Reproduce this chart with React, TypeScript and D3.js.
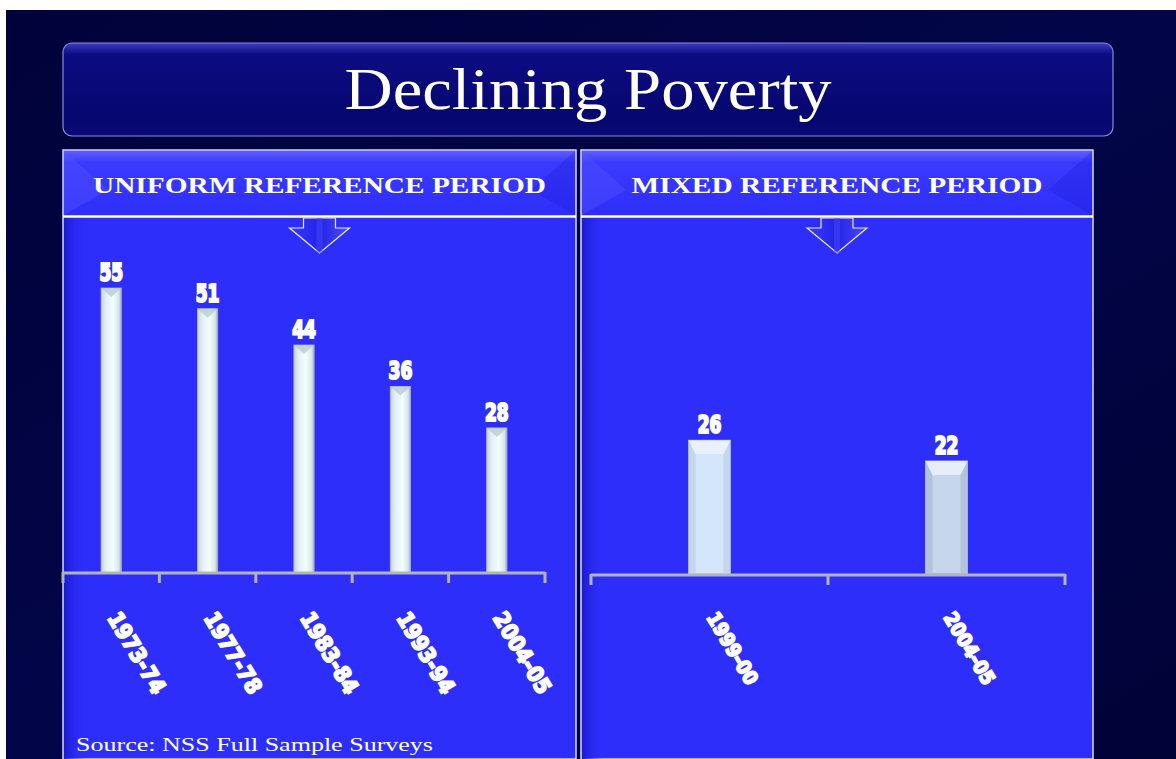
import React from "react";
import * as d3 from "d3";

// poverty headcount ratio (%)
const urpPeriods = ["1973-74", "1977-78", "1983-84", "1993-94", "2004-05"];
const urpValues = [55, 51, 44, 36, 28];
const mrpPeriods = ["1999-00", "2004-05"];
const mrpValues = [26, 22];

const titleText = "Declining Poverty";
const urpTitle = "UNIFORM REFERENCE PERIOD";
const mrpTitle = "MIXED REFERENCE PERIOD";
const sourceText = "Source: NSS Full Sample Surveys";

const W = 1176;
const H = 759;
const panelColor = "#2e2efb";
const numFont = "'DejaVu Sans Condensed', 'DejaVu Sans', sans-serif";
const serif = "'Liberation Serif', 'DejaVu Serif', serif";

function Arrow({ cx, top }: { cx: number; top: number }) {
  const stem = 16;
  const head = 30;
  const d = `M${cx - stem},${top} L${cx + stem},${top} L${cx + stem},${top + 10} L${cx + head},${top + 10} L${cx},${top + 35} L${cx - head},${top + 10} L${cx - stem},${top + 10} Z`;
  return (
    <g>
      <path d={d} fill="url(#arrowGrad)" stroke="#e8e8ff" strokeWidth={1.2} />
      <path d={`M${cx},${top} L${cx},${top + 35}`} stroke="#4848ff" strokeWidth={6} opacity={0.5} />
    </g>
  );
}

function Panel({
  x0, x1, title, titleLen, periods, values, axisY, axisX0, axisX1, padInner, wide, labelSize, showSource,
}: {
  x0: number; x1: number; title: string; titleLen: number; periods: string[]; values: number[];
  axisY: number; axisX0: number; axisX1: number; padInner: number; wide: boolean; labelSize: number; showSource: boolean;
}) {
  const x = d3.scaleBand<string>()
    .domain(periods)
    .range([axisX0, axisX1])
    .paddingInner(padInner)
    .paddingOuter(padInner / 2);
  const y = d3.scaleLinear().domain([0, 55]).range([axisY, axisY - 285]);
  const step = x.step();
  const ticks = d3.range(periods.length + 1).map(i => axisX0 + i * step);
  const cx = (x0 + x1) / 2;
  const bw = x.bandwidth();

  return (
    <g>
      <rect x={x0} y={150} width={x1 - x0} height={H - 150} fill={panelColor} stroke="#d8d8ff" strokeWidth={1.5} />
      <rect x={x0 + 1} y={151} width={22} height={H - 151} fill="url(#leftShade)" />
      {/* header bevel */}
      <rect x={x0 + 1} y={151} width={x1 - x0 - 2} height={64} fill="url(#headGrad)" />
      <path d={`M${x0 + 1},151 L${x0 + 45},190 L${x0 + 1},215 Z`} fill="#5a5aff" opacity={0.35} />
      <path d={`M${x1 - 1},151 L${x1 - 45},190 L${x1 - 1},215 Z`} fill="#1c1cd8" opacity={0.3} />
      <line x1={x0} x2={x1} y1={216.5} y2={216.5} stroke="#ffffff" strokeWidth={2.5} />
      <text x={cx} y={193} textAnchor="middle" fill="#ffffff" fontFamily={serif} fontWeight="bold"
        fontSize={23} textLength={titleLen} lengthAdjust="spacingAndGlyphs">{title}</text>
      <Arrow cx={cx} top={218} />

      {/* bars */}
      {periods.map((p, i) => {
        const bx = x(p) as number;
        const top = y(values[i]);
        const h = axisY - top;
        if (!wide) {
          return (
            <g key={p}>
              <rect x={bx} y={top} width={bw} height={h} fill="url(#barGrad)" stroke="#a9b6bd" strokeWidth={0.8} />
              <path d={`M${bx},${top} L${bx + bw},${top} L${bx + bw / 2},${top + 9} Z`} fill="#b9cad2" opacity={0.8} />
            </g>
          );
        }
        const inset = 7;
        return (
          <g key={p}>
            <rect x={bx} y={top} width={bw} height={h} fill={i === 0 ? "#c2d6f0" : "#b2c3dc"} stroke="#a9b8cc" strokeWidth={1} />
            <path d={`M${bx},${top} L${bx + bw},${top} L${bx + bw - inset},${top + inset * 2} L${bx + inset},${top + inset * 2} Z`} fill="#eef6ff" opacity={0.85} />
            <rect x={bx + inset} y={top + inset * 2} width={bw - inset * 2} height={h - inset * 2 - 2} fill={i === 0 ? "#d4e6fb" : "#c6d6ed"} />
          </g>
        );
      })}

      {/* value labels */}
      {periods.map((p, i) => {
        const vx = (x(p) as number) + bw / 2;
        const vy = y(values[i]) - 7;
        return (
          <text key={p} x={0} y={0} transform={`translate(${vx},${vy}) scale(0.9,1.15)`} textAnchor="middle"
            fill="#ffffff" stroke="#ffffff" strokeWidth={1.8} fontFamily={numFont} fontWeight="bold"
            fontSize={21}>{values[i]}</text>
        );
      })}

      {/* axis */}
      <line x1={axisX0} x2={axisX1} y1={axisY} y2={axisY} stroke="#b4b4b4" strokeWidth={3} />
      {ticks.map((t, i) => (
        <line key={i} x1={t} x2={t} y1={axisY - 1} y2={axisY + 10} stroke="#b4b4b4" strokeWidth={3} />
      ))}

      {/* category labels */}
      {periods.map(p => {
        const lx = (x(p) as number) + bw / 2 + 2;
        const ly = 614;
        return (
          <text key={p} x={lx} y={ly} transform={`rotate(59,${lx},${ly})`} dominantBaseline="central"
            fill="#ffffff" stroke="#ffffff" strokeWidth={1.8} fontFamily={numFont} fontWeight="bold"
            fontSize={labelSize}>{p}</text>
        );
      })}

      {showSource && (
        <text x={x0 + 13} y={751} fill="#ffffff" fontFamily={serif} fontSize={18.5}
          textLength={357} lengthAdjust="spacingAndGlyphs">{sourceText}</text>
      )}
    </g>
  );
}

export default function App() {
  return (
    <svg width={W} height={H} viewBox={`0 0 ${W} ${H}`}
      style={{ position: "absolute", left: 0, top: 0, display: "block" }}>
      <defs>
        <linearGradient id="bgGrad" x1="0" y1="0" x2="1" y2="1">
          <stop offset="0%" stopColor="#01023a" />
          <stop offset="50%" stopColor="#020548" />
          <stop offset="100%" stopColor="#010236" />
        </linearGradient>
        <linearGradient id="titleGrad" x1="0" y1="0" x2="0" y2="1">
          <stop offset="0%" stopColor="#3c3cc4" />
          <stop offset="12%" stopColor="#0c0c82" />
          <stop offset="85%" stopColor="#06066e" />
          <stop offset="100%" stopColor="#0a0a78" />
        </linearGradient>
        <linearGradient id="headGrad" x1="0" y1="0" x2="0" y2="1">
          <stop offset="0%" stopColor="#5e5eff" />
          <stop offset="18%" stopColor="#3a3aff" />
          <stop offset="100%" stopColor={panelColor} />
        </linearGradient>
        <linearGradient id="leftShade" x1="0" y1="0" x2="1" y2="0">
          <stop offset="0%" stopColor="#1a1ad2" />
          <stop offset="100%" stopColor={panelColor} stopOpacity={0} />
        </linearGradient>
        <linearGradient id="barGrad" x1="0" y1="0" x2="1" y2="0">
          <stop offset="0%" stopColor="#c7d3da" />
          <stop offset="25%" stopColor="#e4f0f4" />
          <stop offset="60%" stopColor="#f2feff" />
          <stop offset="88%" stopColor="#d6e4ea" />
          <stop offset="100%" stopColor="#9fb0b8" />
        </linearGradient>
        <linearGradient id="arrowGrad" x1="0" y1="0" x2="1" y2="0">
          <stop offset="0%" stopColor="#3a3aff" />
          <stop offset="50%" stopColor="#2424e6" />
          <stop offset="100%" stopColor="#4c4cff" />
        </linearGradient>
      </defs>

      <rect x={0} y={0} width={W} height={H} fill="#ffffff" />
      <rect x={6} y={10} width={W - 6} height={H - 10} fill="url(#bgGrad)" />

      {/* title banner */}
      <rect x={63} y={43} width={1050} height={93} rx={9} fill="url(#titleGrad)" stroke="#8a8ad8" strokeWidth={1.2} />
      <text x={588} y={109} textAnchor="middle" fill="#ffffff" fontFamily={serif} fontSize={60}
        textLength={487} lengthAdjust="spacingAndGlyphs">{titleText}</text>

      <Panel x0={63} x1={576} title={urpTitle} titleLen={453} periods={urpPeriods} values={urpValues}
        axisY={573} axisX0={63} axisX1={545} padInner={0.79} wide={false} labelSize={22} showSource={true} />
      <Panel x0={581} x1={1093} title={mrpTitle} titleLen={411} periods={mrpPeriods} values={mrpValues}
        axisY={575} axisX0={591} axisX1={1065} padInner={0.823} wide={true} labelSize={19.5} showSource={false} />
    </svg>
  );
}
